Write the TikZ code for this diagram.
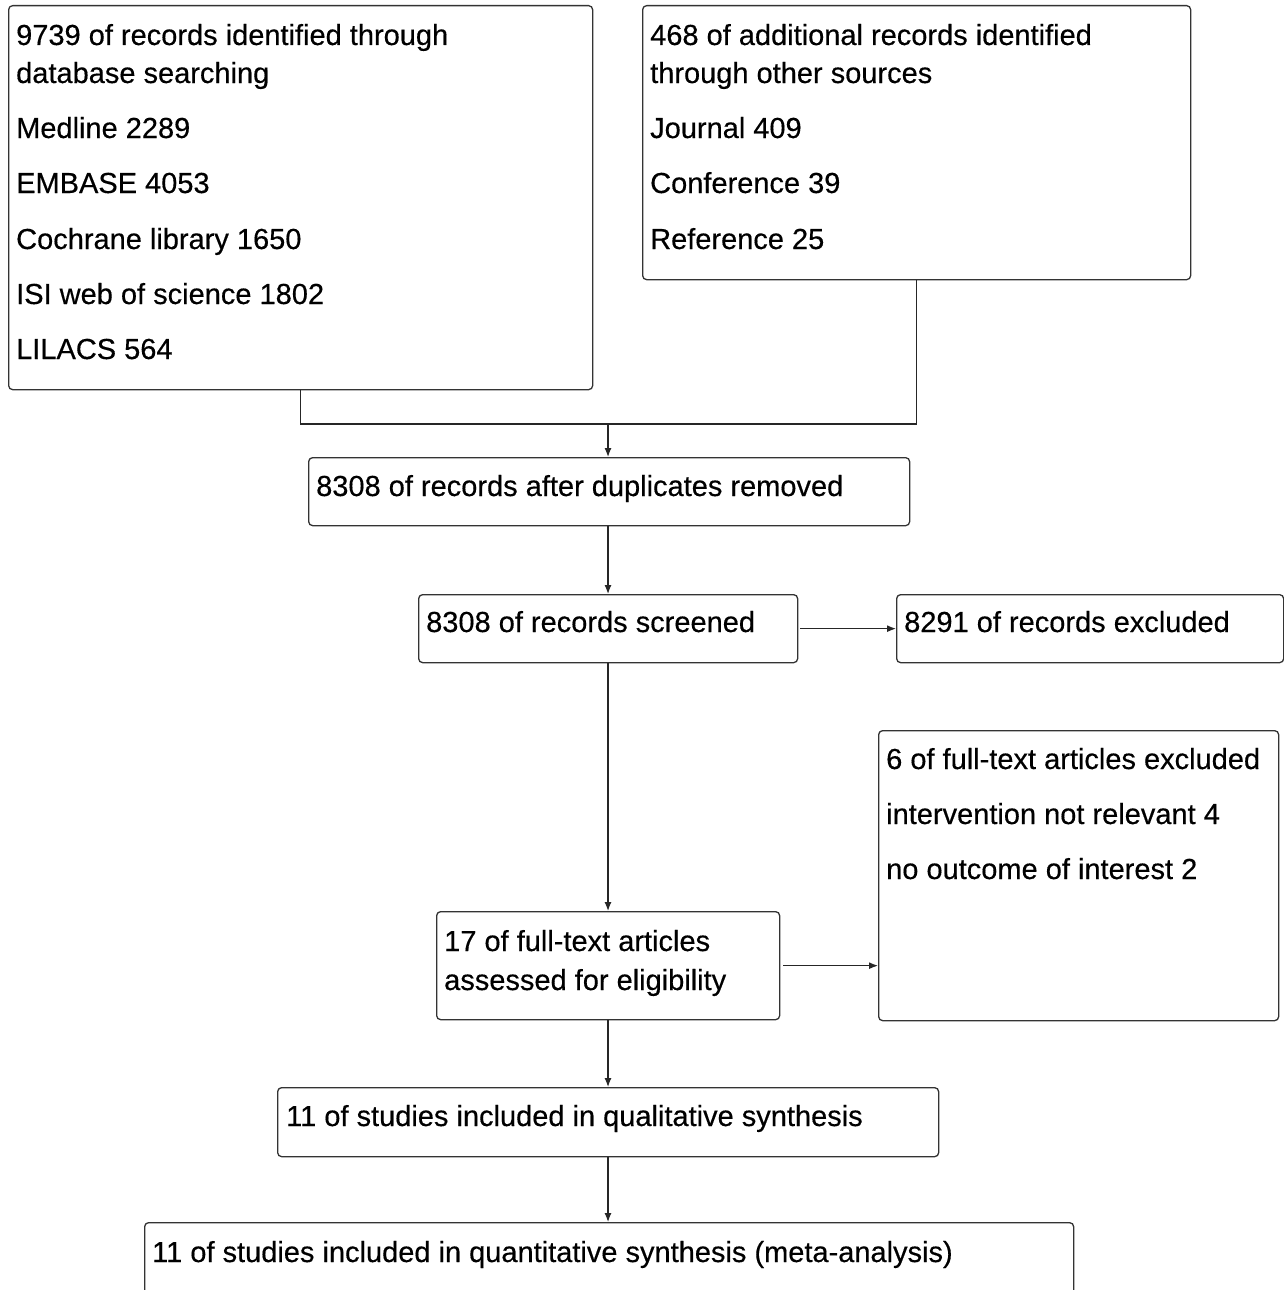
\documentclass[tikz,border=0pt]{standalone}
\usepackage{fontspec}
\setmainfont{Liberation Sans}
\newfontfamily\boxfont{Liberation Sans}[FakeBold=0.4]
\usetikzlibrary{arrows.meta}
\begin{document}
\begin{tikzpicture}[x=1pt,y=-1pt,
  box/.style={draw=black!80, line width=1.3pt, rounded corners=4pt, inner sep=0pt, anchor=north west},
  lbl/.style={anchor=base west, inner sep=0pt, font=\boxfont\fontsize{29}{34}\selectfont},
  conn/.style={draw=black!85, line width=1.2pt},
  arr/.style={conn, -{Latex[length=9pt,width=7pt]}}]
\useasboundingbox (0,0) rectangle (1284,1290);
% boxes
\node[box, minimum width=584pt, minimum height=384pt] (A) at (8,5) {};
\node[box, minimum width=548pt, minimum height=274pt] (B) at (642,5) {};
\node[box, minimum width=601pt, minimum height=68pt] (C) at (308,457) {};
\node[box, minimum width=379pt, minimum height=68pt] (D) at (418,594) {};
\node[box, minimum width=387pt, minimum height=68pt] (E) at (896,594) {};
\node[box, minimum width=400pt, minimum height=290pt] (F) at (878,730) {};
\node[box, minimum width=343pt, minimum height=108pt] (G) at (436,911) {};
\node[box, minimum width=661pt, minimum height=69pt] (H) at (277,1087) {};
\node[box, minimum width=929pt, minimum height=100pt] (I) at (144,1222) {};
% texts
\node[lbl] (a1) at (16,45) {9739 of records identified through};
\node[lbl] (a2) at (16,83) {database searching};
\node[lbl] (a3) at (16,138) {Medline 2289};
\node[lbl] (a4) at (16,193) {EMBASE 4053};
\node[lbl] (a5) at (16,249) {Cochrane library 1650};
\node[lbl] (a6) at (16,304) {ISI web of science 1802};
\node[lbl] (a7) at (16,359) {LILACS 564};
\node[lbl] (b1) at (650,45) {468 of additional records identified};
\node[lbl] (b2) at (650,83) {through other sources};
\node[lbl] (b3) at (650,138) {Journal 409};
\node[lbl] (b4) at (650,193) {Conference 39};
\node[lbl] (b5) at (650,249) {Reference 25};
\node[lbl] (c1) at (316,496) {8308 of records after duplicates removed};
\node[lbl] (d1) at (426,632) {8308 of records screened};
\node[lbl] (e1) at (904,632) {8291 of records excluded};
\node[lbl] (f1) at (886,769) {6 of full-text articles excluded};
\node[lbl] (f2) at (886,824) {intervention not relevant 4};
\node[lbl] (f3) at (886,879) {no outcome of interest 2};
\node[lbl] (g1) at (444,951) {17 of full-text articles};
\node[lbl] (g2) at (444,990) {assessed for eligibility};
\node[lbl] (h1) at (286,1126) {11 of studies included in qualitative synthesis};
\node[lbl] (i1) at (152,1262) {11 of studies included in quantitative synthesis (meta-analysis)};
% connectors
\coordinate (m) at (608,424);
\draw[conn] (A.south) |- (B.south |- m) -- (B.south);
\draw[arr] (m) -- (m |- C.north);
\draw[arr] (C.south -| m) -- (m |- D.north);
\draw[arr] (m |- D.south) -- (m |- G.north);
\draw[arr, shorten <=2pt] (D.east) -- (D.east -| E.west);
\draw[arr, shorten <=3pt] (G.east) -- (G.east -| F.west);
\draw[arr] (m |- G.south) -- (m |- H.north);
\draw[arr] (m |- H.south) -- (m |- I.north);
\end{tikzpicture}
\end{document}
